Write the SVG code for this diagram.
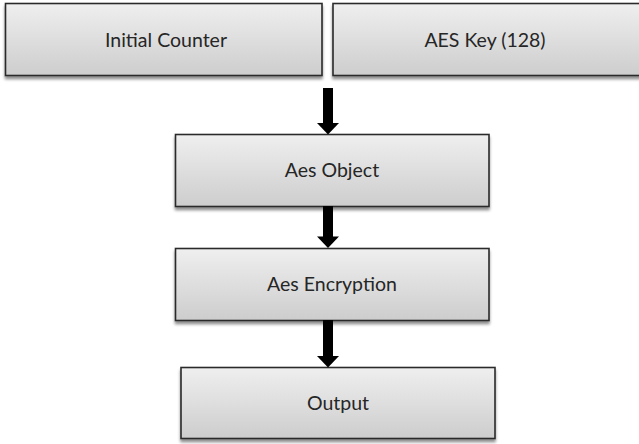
<svg xmlns="http://www.w3.org/2000/svg" width="639" height="444" viewBox="0 0 639 444">
  <defs>
    <linearGradient id="boxFill" x1="0" y1="0" x2="0" y2="1">
      <stop offset="0" stop-color="#efefef"/>
      <stop offset="1" stop-color="#cdcdcd"/>
    </linearGradient>
    <filter id="shadow" x="-5%" y="-10%" width="110%" height="130%">
      <feGaussianBlur in="SourceAlpha" stdDeviation="1.8"/>
      <feOffset dx="0" dy="2.5" result="b"/>
      <feComponentTransfer><feFuncA type="linear" slope="0.45"/></feComponentTransfer>
      <feMerge><feMergeNode/><feMergeNode in="SourceGraphic"/></feMerge>
    </filter>
  </defs>
  <style>
    .box { fill: url(#boxFill); stroke: #2a2a2a; stroke-width: 1.6; filter: url(#shadow); }
    .label { font-family: Lato, "Open Sans", "Liberation Sans", sans-serif; font-size: 19.5px; fill: #262626; text-anchor: middle; }
    .arrow { stroke: #000; stroke-width: 10; fill: none; }
    .head { fill: #000; }
  </style>

  <g id="initial-counter">
    <rect class="box" x="5.5" y="3.5" width="316.5" height="72"/>
    <text class="label" x="166" y="46.5">Initial Counter</text>
  </g>

  <g id="aes-key">
    <rect class="box" x="333" y="3.5" width="310" height="72"/>
    <text class="label" x="485" y="46.5">AES Key (128)</text>
  </g>

  <g id="aes-object">
    <rect class="box" x="175.5" y="134.5" width="313.5" height="72"/>
    <text class="label" x="332" y="176.5">Aes Object</text>
  </g>

  <g id="aes-encryption">
    <rect class="box" x="175.5" y="248.5" width="313.5" height="72"/>
    <text class="label" x="332" y="290.5">Aes Encryption</text>
  </g>

  <g id="output">
    <rect class="box" x="181" y="367.5" width="314" height="71"/>
    <text class="label" x="338" y="409.5">Output</text>
  </g>

  <g id="connectors">
    <line class="arrow" x1="328" y1="88" x2="328" y2="124"/>
    <path class="head" d="M317 123 L339 123 L328 134.5 Z"/>
    <line class="arrow" x1="328" y1="206" x2="328" y2="237"/>
    <path class="head" d="M317 236.5 L339 236.5 L328 248 Z"/>
    <line class="arrow" x1="328" y1="320" x2="328" y2="357"/>
    <path class="head" d="M317 356 L339 356 L328 367.5 Z"/>
  </g>
</svg>
